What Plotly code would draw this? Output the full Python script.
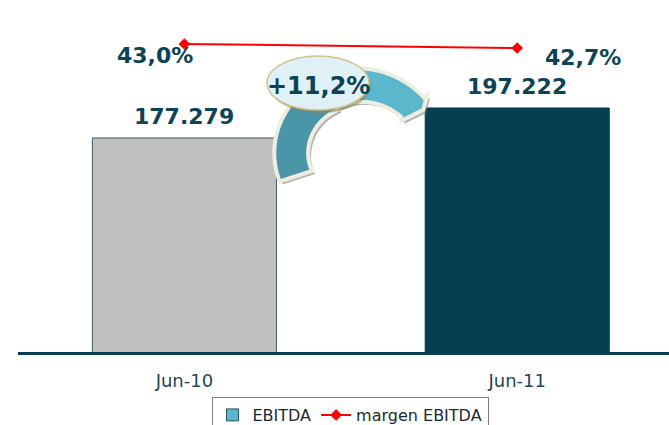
import math
import plotly.graph_objects as go

# ---------------- data ----------------
categories = ["Jun-10", "Jun-11"]
ebitda = [177279, 197222]
margen = [43.0, 42.7]
growth_label = "+11,2%"
series_names = ["EBITDA", "margen EBITDA"]

def fmt_thousands(v):
    return f"{v:,.0f}".replace(",", ".")

def fmt_pct(v):
    return f"{v:.1f}%".replace(".", ",")

# ---------------- geometry helpers (pixel -> paper) ----------------
W, H = 669, 425
L, R, T, B = 18, 0, 0, 73
PW, PH = W - L - R, H - T - B

def px(x):
    return (x - L) / PW

def py(y):
    return (H - B - y) / PH

def band_path(c, a0, a1, ro0, ro1, ri0, ri1, n=40, dx=0, dy=0, head=None):
    cx, cy = c
    pts_out, pts_in = [], []
    for i in range(n + 1):
        t = i / n
        a = math.radians(a0 + (a1 - a0) * t)
        ro = ro0 + (ro1 - ro0) * t
        ri = ri0 + (ri1 - ri0) * t
        pts_out.append((cx + ro * math.cos(a) + dx, cy - ro * math.sin(a) + dy))
        pts_in.append((cx + ri * math.cos(a) + dx, cy - ri * math.sin(a) + dy))
    pts = list(pts_out)
    if head:
        for (r, a) in head:
            aa = math.radians(a)
            pts.append((cx + r * math.cos(aa) + dx, cy - r * math.sin(aa) + dy))
    pts += pts_in[::-1]
    d = "M " + " L ".join(f"{px(x):.5f},{py(y):.5f}" for x, y in pts) + " Z"
    return d

C = (352, 158)
left_args = dict(a0=198, a1=106, ro0=76, ro1=84, ri0=42, ri1=50)
right_args = dict(a0=108, a1=40, ro0=88, ro1=94, ri0=52, ri1=64)
head = [(98, 40), (86, 34), (62, 37)]

shapes = []
# shadows
for args, hd in ((left_args, None), (right_args, head)):
    shapes.append(dict(type="path", xref="paper", yref="paper",
                       path=band_path(C, **args, dx=3, dy=3, head=hd),
                       fillcolor="rgba(120,120,110,0.55)", line=dict(width=0), layer="above"))
# arrows
shapes.append(dict(type="path", xref="paper", yref="paper",
                   path=band_path(C, **left_args),
                   fillcolor="#4a95a8", line=dict(color="#eeede1", width=4), layer="above"))
shapes.append(dict(type="path", xref="paper", yref="paper",
                   path=band_path(C, **right_args, head=head),
                   fillcolor="#5ab7cc", line=dict(color="#eeede1", width=4), layer="above"))
# ellipse shadow + ellipse
ecx, ecy, erx, ery = 318, 83, 51, 27
shapes.append(dict(type="circle", xref="paper", yref="paper",
                   x0=px(ecx - erx + 2), x1=px(ecx + erx + 2),
                   y0=py(ecy + ery + 3), y1=py(ecy - ery + 3),
                   fillcolor="rgba(140,135,100,0.6)", line=dict(width=0), layer="above"))
shapes.append(dict(type="circle", xref="paper", yref="paper",
                   x0=px(ecx - erx), x1=px(ecx + erx),
                   y0=py(ecy + ery), y1=py(ecy - ery),
                   fillcolor="#dff0f6", line=dict(color="#d2c488", width=1.5), layer="above"))
# light line under axis
shapes.append(dict(type="line", xref="paper", yref="paper",
                   x0=0, x1=1, y0=py(354.5), y1=py(354.5),
                   line=dict(color="#8fb3be", width=1), layer="below"))

# ---------------- traces ----------------
fig = go.Figure()
fig.add_trace(go.Bar(
    x=categories, y=ebitda, width=0.553,
    marker=dict(color=["#c0c0c0", "#053f50"], line=dict(color=["#3d5965", "#053f50"], width=1)),
    showlegend=False, hoverinfo="skip"))
fig.add_trace(go.Bar(
    x=[categories[0]], y=[None], name=series_names[0],
    marker=dict(color="#5bb7cc", line=dict(color="#2a5565", width=1))))
fig.add_trace(go.Scatter(
    x=categories, y=margen, yaxis="y2", name=series_names[1], mode="lines+markers",
    line=dict(color="#ff0000", width=2),
    marker=dict(symbol="diamond", size=9, color="#ff0000")))

text_col = "#0b4455"
ann = []
for c, v in zip(categories, ebitda):
    ann.append(dict(x=c, y=v, xref="x", yref="y", text=fmt_thousands(v), showarrow=False,
                    yanchor="middle", yshift=21,
                    font=dict(family="DejaVu Sans", size=22, color=text_col, weight="bold")))
pct_shift = [(-29, -11), (66, -9)]
for c, v, (xs, ys) in zip(categories, margen, pct_shift):
    ann.append(dict(x=c, y=v, xref="x", yref="y2", text=fmt_pct(v), showarrow=False,
                    yanchor="middle", xshift=xs, yshift=ys,
                    font=dict(family="DejaVu Sans", size=22, color=text_col, weight="bold")))
ann.append(dict(x=px(ecx), y=py(ecy + 3), xref="paper", yref="paper", text=growth_label,
                showarrow=False, xanchor="center", yanchor="middle",
                font=dict(family="DejaVu Sans", size=24, color=text_col, weight="bold")))

fig.update_layout(
    width=W, height=H,
    margin=dict(l=L, r=R, t=T, b=B, pad=0, autoexpand=False),
    paper_bgcolor="white", plot_bgcolor="white",
    barmode="overlay",
    xaxis=dict(range=[-0.5, 1.456], showline=True, linecolor="#08404f", linewidth=2.5,
               showgrid=False, zeroline=False, ticks="", ticklabelstandoff=11,
               tickfont=dict(family="DejaVu Sans", size=18, color="#1f4656")),
    yaxis=dict(range=[35000, 269000], visible=False, showgrid=False),
    yaxis2=dict(range=[19.9, 46.3], overlaying="y", visible=False, showgrid=False),
    legend=dict(orientation="h", x=px(350), xanchor="center", y=py(397), yanchor="top",
                bordercolor="#7f7f7f", borderwidth=1, entrywidthmode="pixels",
                font=dict(family="DejaVu Sans", size=16, color="#1b2a33"),
                traceorder="normal"),
    shapes=shapes, annotations=ann,
)
post = "document.body.style.margin='0';document.body.style.padding='0';"
fig.write_html("out.html", config={"displayModeBar": False}, post_script=post)
